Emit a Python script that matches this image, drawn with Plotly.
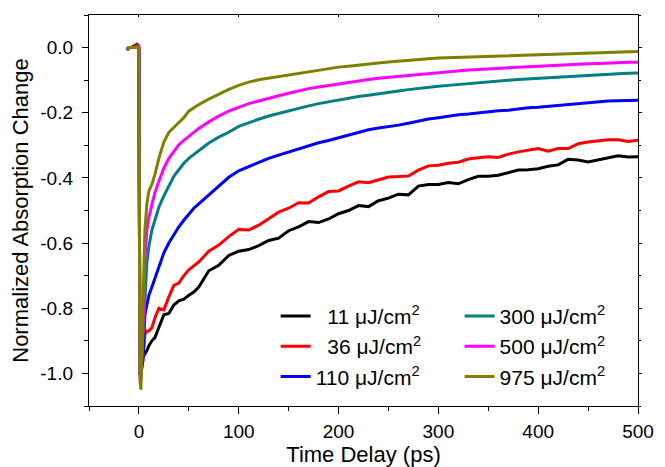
import plotly.graph_objects as go

# ---------------- data ----------------
time_ps = [-12, -10, -8, -6, -4, -2, -1, 0,
           1, 2, 4, 6, 8, 10, 13, 16, 20, 25, 30, 35, 40, 45, 50, 55, 60,
           70, 80, 90, 100, 110, 120, 130, 140, 150, 160, 170, 180, 190, 200,
           210, 220, 230, 240, 250, 260, 270, 280, 290, 300, 310, 320, 330,
           340, 350, 360, 370, 380, 390, 400, 410, 420, 430, 440, 450, 460,
           470, 480, 490, 500]

f11 = [-0.008, 0.0, 0.0, 0.002, 0.006, 0.01, 0.008, 0.0,
       -1.0, -0.99, -0.95, -0.94, -0.93, -0.915, -0.9, -0.89, -0.86, -0.82, -0.816, -0.79, -0.777, -0.772, -0.76, -0.75, -0.735,
       -0.685, -0.668, -0.638, -0.625, -0.62, -0.608, -0.592, -0.585, -0.562, -0.55,
       -0.534, -0.537, -0.526, -0.51, -0.5, -0.485, -0.488, -0.47, -0.462, -0.45,
       -0.452, -0.425, -0.42, -0.42, -0.414, -0.418, -0.405, -0.395, -0.395, -0.392,
       -0.383, -0.376, -0.375, -0.372, -0.364, -0.36, -0.343, -0.345, -0.351, -0.345,
       -0.338, -0.332, -0.336, -0.335]

f36 = [-0.008, 0.0, 0.0, 0.0, 0.004, 0.008, 0.006, 0.0,
       -1.0, -1.0, -0.96, -0.88, -0.87, -0.87, -0.86, -0.83, -0.80, -0.805, -0.765, -0.73, -0.723, -0.70, -0.682, -0.67, -0.658,
       -0.625, -0.606, -0.58, -0.558, -0.56, -0.545, -0.525, -0.505, -0.493, -0.476,
       -0.477, -0.458, -0.442, -0.44, -0.425, -0.412, -0.415, -0.407, -0.397, -0.396,
       -0.394, -0.376, -0.363, -0.361, -0.355, -0.352, -0.342, -0.338, -0.335, -0.337,
       -0.327, -0.32, -0.314, -0.31, -0.318, -0.31, -0.31, -0.295, -0.29, -0.287,
       -0.283, -0.283, -0.288, -0.284]

f110 = [-0.006, 0.0, 0.0, 0.0, 0.0, 0.003, 0.003, 0.0,
        -1.0, -1.0, -0.96, -0.82, -0.785, -0.76, -0.735, -0.71, -0.67, -0.63, -0.6, -0.575, -0.55, -0.53, -0.51, -0.493, -0.48,
        -0.452, -0.423, -0.398, -0.378, -0.365, -0.352, -0.34, -0.33, -0.32, -0.31,
        -0.30, -0.292, -0.285, -0.277, -0.268, -0.26, -0.252, -0.247, -0.243, -0.238,
        -0.232, -0.225, -0.219, -0.215, -0.21, -0.206, -0.204, -0.2, -0.196, -0.194,
        -0.192, -0.188, -0.185, -0.183, -0.18, -0.177, -0.174, -0.171, -0.168, -0.166,
        -0.164, -0.163, -0.162, -0.162]

f300 = [-0.006, 0.0, 0.0, 0.0, 0.0, 0.003, 0.003, 0.0,
        -1.0, -1.01, -0.9, -0.76, -0.66, -0.61, -0.56, -0.53, -0.49, -0.455, -0.425, -0.395, -0.375, -0.355, -0.34, -0.328, -0.315,
        -0.293, -0.275, -0.26, -0.242, -0.23, -0.22, -0.21, -0.202, -0.194, -0.185,
        -0.179, -0.172, -0.166, -0.16, -0.155, -0.15, -0.146, -0.141, -0.137, -0.133,
        -0.129, -0.125, -0.122, -0.119, -0.116, -0.113, -0.111, -0.109, -0.106, -0.103,
        -0.1, -0.098, -0.096, -0.094, -0.092, -0.09, -0.088, -0.086, -0.085, -0.083,
        -0.081, -0.08, -0.079, -0.078]

f500 = [-0.006, 0.0, 0.0, 0.0, 0.0, 0.003, 0.003, 0.0,
        -1.0, -1.02, -0.87, -0.65, -0.56, -0.52, -0.48, -0.445, -0.41, -0.37, -0.34, -0.32, -0.298, -0.285, -0.272, -0.26, -0.248,
        -0.228, -0.21, -0.195, -0.183, -0.172, -0.164, -0.155, -0.148, -0.14, -0.132,
        -0.126, -0.121, -0.116, -0.111, -0.106, -0.102, -0.098, -0.094, -0.091, -0.088,
        -0.085, -0.082, -0.079, -0.076, -0.074, -0.072, -0.069, -0.067, -0.065, -0.063,
        -0.061, -0.059, -0.058, -0.057, -0.056, -0.054, -0.053, -0.051, -0.05, -0.049,
        -0.047, -0.046, -0.045, -0.045]

f975 = [-0.004, 0.0, 0.0, 0.0, 0.0, 0.0, 0.0, 0.0,
        -1.02, -1.05, -0.8, -0.56, -0.48, -0.44, -0.42, -0.39, -0.34, -0.29, -0.26, -0.245, -0.232, -0.215, -0.195, -0.185, -0.175,
        -0.158, -0.143, -0.128, -0.116, -0.106, -0.099, -0.094, -0.089, -0.084, -0.078,
        -0.073, -0.069, -0.064, -0.06, -0.057, -0.053, -0.05, -0.047, -0.044, -0.041,
        -0.039, -0.036, -0.034, -0.032, -0.031, -0.03, -0.029, -0.028, -0.027, -0.026,
        -0.025, -0.024, -0.023, -0.021, -0.019, -0.019, -0.018, -0.017, -0.016, -0.015,
        -0.014, -0.013, -0.012, -0.012]

series_names = ["\u00a0\u00a011 \u03bcJ/cm<sup>2</sup>",
                "\u00a0\u00a036 \u03bcJ/cm<sup>2</sup>",
                "110 \u03bcJ/cm<sup>2</sup>",
                "300 \u03bcJ/cm<sup>2</sup>",
                "500 \u03bcJ/cm<sup>2</sup>",
                "975 \u03bcJ/cm<sup>2</sup>"]
series_values = [f11, f36, f110, f300, f500, f975]
series_colors = ["#000000", "#FF0000", "#0000FF", "#008080", "#FF00FF", "#808000"]
series_legend = ["legend", "legend", "legend", "legend2", "legend2", "legend2"]

x_tickvals = [0, 100, 200, 300, 400, 500]
x_ticktext = ["0", "100", "200", "300", "400", "500"]
y_tickvals = [-1.0, -0.8, -0.6, -0.4, -0.2, 0.0]
y_ticktext = ["-1.0", "-0.8", "-0.6", "-0.4", "-0.2", "0.0"]

FONT = "Liberation Sans, Arial, sans-serif"

fig = go.Figure()
for i, (name, vals, col, lg) in enumerate(zip(series_names, series_values, series_colors, series_legend)):
    fig.add_trace(go.Scatter(x=time_ps, y=vals, mode="lines", name=name,
                             line=dict(color=col, width=3),
                             legend=lg, legendgroup="g%d" % i))

# invisible trace hosting mirrored tick axes (top / right)
fig.add_trace(go.Scatter(x=[-50], y=[0], xaxis="x2", yaxis="y2", mode="lines",
                         showlegend=False, hoverinfo="skip"))

# the page body adds an 8 px offset; margins compensate for it
fig.update_layout(
    width=665, height=467,
    margin=dict(l=81, r=35, t=7, b=69, autoexpand=False),
    paper_bgcolor="white", plot_bgcolor="white",
    font=dict(family=FONT, size=19, color="black"),
    xaxis=dict(range=[-50, 500], tickvals=x_tickvals, ticktext=x_ticktext,
               ticks="outside", ticklen=7, tickwidth=1.3, tickcolor="black",
               minor=dict(dtick=50, tick0=0, ticks="outside", ticklen=4, tickcolor="black", tickwidth=1.3),
               showline=True, linecolor="black", linewidth=1.3, mirror=True,
               showgrid=False, zeroline=False, automargin=False,
               tickfont=dict(size=19), ticklabelstandoff=1,
               title=dict(text="Time Delay (ps)", font=dict(size=22), standoff=0)),
    yaxis=dict(range=[-1.1, 0.1], tickvals=y_tickvals, ticktext=y_ticktext,
               ticks="outside", ticklen=6, tickwidth=1.3, tickcolor="black",
               minor=dict(dtick=0.1, tick0=0, ticks="outside", ticklen=4, tickcolor="black", tickwidth=1.3),
               showline=True, linecolor="black", linewidth=1.3, mirror=True,
               showgrid=False, zeroline=False, automargin=False,
               tickfont=dict(size=19), ticklabelstandoff=5,
               title=dict(text="Normalized Absorption Change", font=dict(size=22), standoff=6)),
    xaxis2=dict(range=[-50, 500], overlaying="x", side="top", tickvals=x_tickvals,
                showticklabels=False, ticks="inside", ticklen=2, tickcolor="black",
                showgrid=False, zeroline=False, showline=False, automargin=False),
    yaxis2=dict(range=[-1.1, 0.1], overlaying="y", side="right", tickvals=y_tickvals,
                showticklabels=False, ticks="outside", ticklen=3, tickcolor="black",
                minor=dict(dtick=0.1, tick0=0, ticks="outside", ticklen=2, tickcolor="black"),
                showgrid=False, zeroline=False, showline=False, automargin=False),
    legend=dict(x=0.34, y=0.282, xanchor="left", yanchor="top",
                bgcolor="rgba(0,0,0,0)", font=dict(size=21),
                tracegroupgap=0, traceorder="grouped"),
    legend2=dict(x=0.675, y=0.282, xanchor="left", yanchor="top",
                 bgcolor="rgba(0,0,0,0)", font=dict(size=21),
                 tracegroupgap=0, traceorder="grouped"),
    showlegend=True,
)

fig.write_html("out.html")
